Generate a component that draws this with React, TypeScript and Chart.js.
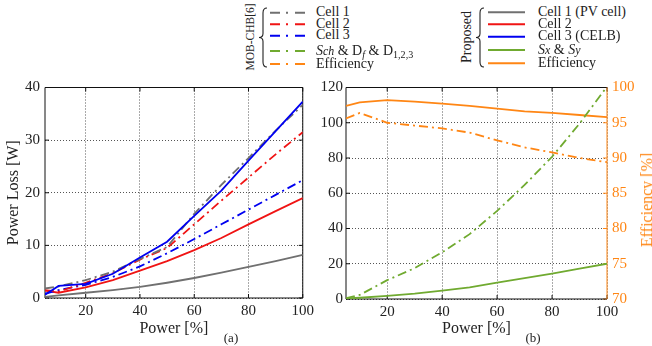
import React, { useEffect, useRef } from 'react';
import { Chart, registerables } from 'chart.js';

Chart.register(...registerables);

// ---------- data ----------
const powerPct = [5, 10, 20, 30, 40, 50, 60, 70, 80, 90, 100];

// (a) power loss [W]
const mobCell1 = [1.8, 2.2, 3.4, 5.0, 7.4, 9.7, 16.0, 21.5, 26.6, 31.8, 36.7];
const mobCell2 = [1.5, 1.2, 2.9, 4.7, 7.3, 9.5, 14.0, 18.5, 22.9, 27.3, 31.5];
const mobCell3 = [0.8, 1.5, 2.5, 4.0, 6.0, 8.5, 11.2, 14.0, 16.8, 19.6, 22.4];
const propCell1 = [0.2, 0.5, 1.0, 1.5, 2.1, 2.9, 3.8, 4.8, 5.9, 7.0, 8.2];
const propCell2 = [1.4, 1.0, 2.0, 3.4, 5.2, 7.0, 9.1, 11.4, 14.0, 16.5, 19.0];
const propCell3 = [0.6, 2.3, 2.7, 4.6, 7.7, 10.7, 15.6, 20.4, 26.1, 31.7, 37.3];

// (b) switch losses [W] and efficiency [%]
const mobSwitch = [0.5, 2.3, 10.7, 17.5, 26.5, 36.8, 50.0, 64.7, 80.7, 99.5, 120.5];
const propSwitch = [0.3, 0.7, 1.8, 3.0, 4.7, 6.6, 9.3, 11.8, 14.4, 17.2, 20.0];
const mobEff = [95.6, 96.4, 95.0, 94.6, 94.2, 93.6, 92.5, 91.5, 90.8, 90.0, 89.4];
const propEff = [97.4, 97.9, 98.2, 98.0, 97.7, 97.4, 97.0, 96.6, 96.4, 96.1, 95.8];

// ticks
const xTickValues = [20, 40, 60, 80, 100];
const lossTicksA = [0, 10, 20, 30, 40];
const lossTicksB = [0, 20, 40, 60, 80, 100, 120];
const effTicks = [70, 75, 80, 85, 90, 95, 100];

// ---------- styles ----------
const FONT = '"Liberation Serif", "Times New Roman", serif';
const TXT = '#222';
const GRID = '#555';
const FRAME = '#111';
const GRAY = 'rgb(112,112,112)';
const RED = 'rgb(240,20,20)';
const BLUE = 'rgb(0,0,240)';
const GREEN = 'rgb(112,170,48)';
const ORANGE = 'rgb(255,134,20)';
const DASHDOT = [9, 4, 2, 4];

const pts = (ys: number[]) => powerPct.map((x, i) => ({ x, y: ys[i] }));

const line = (label: string, ys: number[], color: string, dashed: boolean, yAxisID = 'y') => ({
  label,
  data: pts(ys),
  borderColor: color,
  backgroundColor: color,
  borderWidth: 1.8,
  borderDash: dashed ? DASHDOT : [],
  pointRadius: 0,
  tension: 0,
  fill: false,
  yAxisID,
});

const tickFont = { family: FONT, size: 15, lineHeight: 1 };
const titleFont = { family: FONT, size: 16, lineHeight: 1.2 };

const framePlugin = {
  id: 'frameTicks',
  beforeDatasetsDraw(chart: any, _args: any, opts: any) {
    const { ctx, chartArea: a } = chart;
    const L = a.left, R = a.right, T = a.top, B = a.bottom;
    const TL = 4;
    ctx.save();
    ctx.lineWidth = 1;
    ctx.setLineDash([]);
    const seg = (x1: number, y1: number, x2: number, y2: number, c: string) => {
      ctx.strokeStyle = c;
      ctx.beginPath();
      ctx.moveTo(x1, y1);
      ctx.lineTo(x2, y2);
      ctx.stroke();
    };
    const xs = chart.scales.x;
    xs.ticks.forEach((t: any) => {
      const p = xs.getPixelForValue(t.value);
      seg(p, B, p, B - TL, opts.bottom);
      seg(p, T, p, T + TL, opts.top);
    });
    const ls = chart.scales[opts.leftScale];
    ls.ticks.forEach((t: any) => {
      const p = ls.getPixelForValue(t.value);
      seg(L, p, L + TL, p, opts.left);
    });
    const rs = chart.scales[opts.rightScale];
    rs.ticks.forEach((t: any) => {
      const p = rs.getPixelForValue(t.value);
      seg(R, p, R - TL, p, opts.right);
    });
    seg(L, T, R, T, opts.top);
    seg(L, B, R, B, opts.bottom);
    seg(L, T, L, B, opts.left);
    seg(R, T, R, B, opts.right);
    ctx.restore();
  },
};

const xScale = (height: number) => ({
  type: 'linear',
  min: 5,
  max: 100,
  afterBuildTicks: (s: any) => {
    s.ticks = xTickValues.map((v) => ({ value: v }));
  },
  afterFit: (s: any) => {
    s.height = height;
  },
  grid: { color: GRID, lineWidth: 1, drawTicks: false },
  border: { display: false, dash: [1, 2] },
  ticks: { font: tickFont, color: TXT, padding: 6, maxRotation: 0 },
  title: { display: true, text: 'Power [%]', font: titleFont, color: TXT, padding: { top: 0, bottom: 8 } },
});

function ChartA() {
  const ref = useRef<HTMLCanvasElement>(null);
  useEffect(() => {
    const chart = new Chart(ref.current as HTMLCanvasElement, {
      type: 'line',
      data: {
        datasets: [
          line('Cell 3 (CELB)', propCell3, BLUE, false),
          line('Cell 1 MOB', mobCell1, GRAY, true),
          line('Cell 2 MOB', mobCell2, RED, true),
          line('Cell 3 MOB', mobCell3, BLUE, true),
          line('Cell 2', propCell2, RED, false),
          line('Cell 1 (PV cell)', propCell1, GRAY, false),
        ] as any,
      },
      options: {
        responsive: false,
        maintainAspectRatio: false,
        animation: false,
        layout: { padding: { left: 0, right: 14, top: 8, bottom: 0 } },
        plugins: {
          legend: { display: false },
          tooltip: { enabled: false },
          frameTicks: { left: FRAME, right: FRAME, top: FRAME, bottom: FRAME, leftScale: 'y', rightScale: 'y' },
        } as any,
        scales: {
          x: xScale(48) as any,
          y: {
            type: 'linear',
            min: 0,
            max: 40,
            afterBuildTicks: (s: any) => {
              s.ticks = lossTicksA.map((v) => ({ value: v }));
            },
            afterFit: (s: any) => {
              s.width = 45;
            },
            grid: { color: GRID, lineWidth: 1, drawTicks: false },
            border: { display: false, dash: [1, 2] },
            ticks: { font: tickFont, color: TXT, padding: 5 },
            title: { display: true, text: 'Power Loss [W]', font: titleFont, color: TXT, padding: { top: 4, bottom: 0 } },
          } as any,
        },
      },
      plugins: [framePlugin as any],
    });
    return () => chart.destroy();
  }, []);
  return <canvas ref={ref} width={320} height={271} style={{ display: 'block' }} />;
}

function ChartB() {
  const ref = useRef<HTMLCanvasElement>(null);
  useEffect(() => {
    const chart = new Chart(ref.current as HTMLCanvasElement, {
      type: 'line',
      data: {
        datasets: [
          line('Sch & Df & D1,2,3', mobSwitch, GREEN, true),
          line('Sx & Sy', propSwitch, GREEN, false),
          line('Efficiency', propEff, ORANGE, false, 'y1'),
          line('Efficiency MOB', mobEff, ORANGE, true, 'y1'),
        ] as any,
      },
      options: {
        responsive: false,
        maintainAspectRatio: false,
        animation: false,
        layout: { padding: { left: 0, right: 0, top: 10, bottom: 0 } },
        plugins: {
          legend: { display: false },
          tooltip: { enabled: false },
          frameTicks: { left: FRAME, right: ORANGE, top: FRAME, bottom: FRAME, leftScale: 'y', rightScale: 'y1' },
        } as any,
        scales: {
          x: xScale(47) as any,
          y: {
            type: 'linear',
            position: 'left',
            min: 0,
            max: 120,
            afterBuildTicks: (s: any) => {
              s.ticks = lossTicksB.map((v) => ({ value: v }));
            },
            afterFit: (s: any) => {
              s.width = 36;
            },
            grid: { color: GRID, lineWidth: 1, drawTicks: false },
            border: { display: false, dash: [1, 2] },
            ticks: { font: tickFont, color: TXT, padding: 3 },
          } as any,
          y1: {
            type: 'linear',
            position: 'right',
            min: 70,
            max: 100,
            afterBuildTicks: (s: any) => {
              s.ticks = effTicks.map((v) => ({ value: v }));
            },
            afterFit: (s: any) => {
              s.width = 63;
            },
            grid: { display: false, drawTicks: false },
            border: { display: false },
            ticks: { font: tickFont, color: ORANGE, padding: 5 },
          } as any,
        },
      },
      plugins: [framePlugin as any],
    });
    return () => chart.destroy();
  }, []);
  return <canvas ref={ref} width={360} height={271} style={{ display: 'block' }} />;
}

const abs = (left: number, top: number, extra: any = {}) => ({
  position: 'absolute' as const,
  left,
  top,
  whiteSpace: 'nowrap' as const,
  lineHeight: 1,
  ...extra,
});

const subStyle = { fontSize: '0.72em', verticalAlign: '-0.28em', lineHeight: 0 };

const leftRowsY = [12.7, 24.2, 35.8, 51, 64];
const rightRowsY = [12.3, 24.2, 36.7, 50, 63.3];
const legendColors = [GRAY, RED, BLUE, GREEN, ORANGE];

const leftLabels = [
  <>Cell 1</>,
  <>Cell 2</>,
  <>Cell 3</>,
  <>
    <i>S</i>
    <i style={{ fontSize: '0.85em' }}>ch</i> &amp; D<i style={subStyle}>f</i> &amp; D<span style={subStyle}>1,2,3</span>
  </>,
  <>Efficiency</>,
];
const rightLabels = [
  <>Cell 1 (PV cell)</>,
  <>Cell 2</>,
  <>Cell 3 (CELB)</>,
  <>
    <i>S</i>
    <i style={{ fontSize: '0.85em' }}>x</i> &amp; <i>S</i>
    <i style={{ fontSize: '0.85em' }}>y</i>
  </>,
  <>Efficiency</>,
];

const brace = (x: number, y0: number, y1: number) => {
  const ym = (y0 + y1) / 2;
  return `M ${x + 4} ${y0} Q ${x} ${y0} ${x} ${y0 + 5} L ${x} ${ym - 4} Q ${x} ${ym} ${x - 4} ${ym} Q ${x} ${ym} ${x} ${ym + 4} L ${x} ${y1 - 5} Q ${x} ${y1} ${x + 4} ${y1}`;
};

export default function App() {
  return (
    <div
      style={{
        position: 'fixed',
        left: 0,
        top: 0,
        width: 652,
        height: 346,
        overflow: 'hidden',
        background: '#fff',
        fontFamily: FONT,
        color: TXT,
      }}
    >
      <div style={{ position: 'absolute', left: 0, top: 75 }}>
        <ChartA />
      </div>
      <div style={{ position: 'absolute', left: 310, top: 75 }}>
        <ChartB />
      </div>

      <svg width={652} height={75} style={{ position: 'absolute', left: 0, top: 0 }}>
        {leftRowsY.map((y, i) => (
          <line key={'l' + i} x1={270} x2={306} y1={y} y2={y} stroke={legendColors[i]} strokeWidth={2} strokeDasharray="10 6 2 7" />
        ))}
        {rightRowsY.map((y, i) => (
          <line key={'r' + i} x1={488} x2={525} y1={y} y2={y} stroke={legendColors[i]} strokeWidth={2} />
        ))}
        <path d={brace(263, 8, 67)} fill="none" stroke="#222" strokeWidth={1.1} />
        <path d={brace(480, 8, 67)} fill="none" stroke="#222" strokeWidth={1.1} />
      </svg>

      <div style={abs(251, 37, { fontSize: 11.5, transform: 'translate(-50%,-50%) rotate(-90deg)' })}>MOB-CHB[6]</div>
      <div style={abs(467, 37, { fontSize: 14, transform: 'translate(-50%,-50%) rotate(-90deg)' })}>Proposed</div>

      {leftLabels.map((lab, i) => (
        <div key={'lt' + i} style={abs(316, leftRowsY[i] - 0.5, { fontSize: 14, transform: 'translateY(-50%)' })}>
          {lab}
        </div>
      ))}
      {rightLabels.map((lab, i) => (
        <div key={'rt' + i} style={abs(538, rightRowsY[i] - 0.5, { fontSize: 14, transform: 'translateY(-50%)' })}>
          {lab}
        </div>
      ))}

      <div style={abs(231, 337, { fontSize: 13, transform: 'translate(-50%,-50%)' })}>(a)</div>
      <div style={abs(533, 337, { fontSize: 13, transform: 'translate(-50%,-50%)' })}>(b)</div>
      <div
        style={abs(647, 200, {
          fontSize: 16,
          color: ORANGE,
          transform: 'translate(-50%,-50%) rotate(-90deg)',
        })}
      >
        Efficiency [%]
      </div>
    </div>
  );
}
